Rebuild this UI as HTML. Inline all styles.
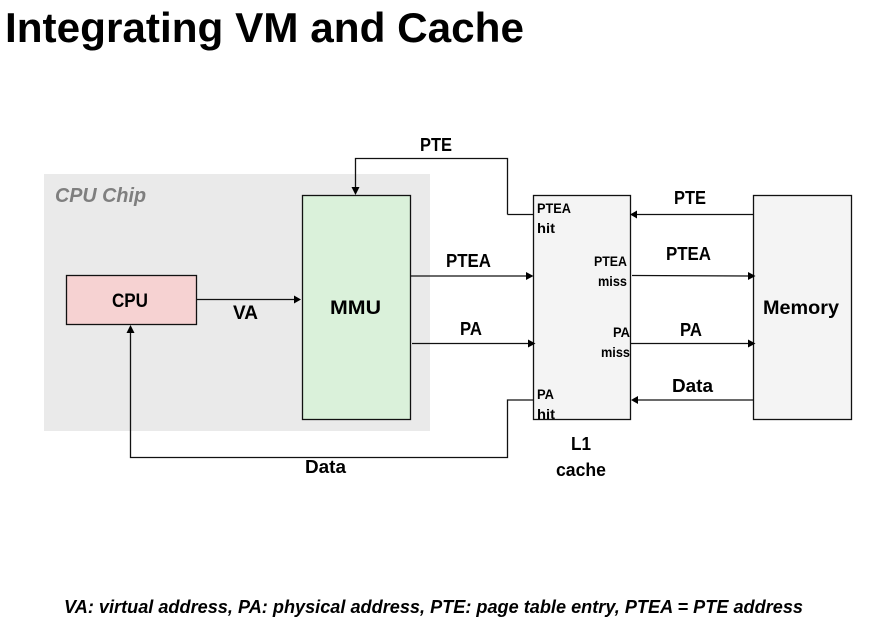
<!DOCTYPE html>
<html>
<head>
<meta charset="utf-8">
<style>
html,body{margin:0;padding:0;background:#fff;width:874px;height:620px;overflow:hidden}
svg{display:block}
text{font-family:"Liberation Sans",sans-serif;font-weight:bold;fill:#000}
</style>
</head>
<body>
<svg width="874" height="620" viewBox="0 0 874 620" xmlns="http://www.w3.org/2000/svg">
<rect width="874" height="620" fill="#fff"/>
<text x="5" y="42" font-size="42" textLength="519" lengthAdjust="spacingAndGlyphs">Integrating VM and Cache</text>

<rect x="44" y="174" width="386" height="257" fill="#eaeaea"/>
<text x="55" y="202" font-size="20" font-style="italic" style="fill:#7f7f7f" textLength="91" lengthAdjust="spacingAndGlyphs">CPU Chip</text>

<g stroke="#111" stroke-width="1.3">
<rect x="66.5" y="275.5" width="130" height="49" fill="#f6d2d2"/>
<rect x="302.5" y="195.5" width="108" height="224" fill="#daf1da"/>
<rect x="533.5" y="195.5" width="97" height="224" fill="#f4f4f4"/>
<rect x="753.5" y="195.5" width="98" height="224" fill="#f4f4f4"/>
</g>

<g fill="none" stroke="#111" stroke-width="1.3">
<path d="M507.5 214.5V158.5H355.5V188"/>
<path d="M533 214.5H507.5"/>
<path d="M197 299.5H295"/>
<path d="M411 276H527"/>
<path d="M412 343.5H529"/>
<path d="M533 400H507.5V457.5H130.5V332"/>
<path d="M753 214.5H636"/>
<path d="M632 275.5L749 276"/>
<path d="M631 343.5H749"/>
<path d="M754 400H637"/>
</g>
<g fill="#000">
<path d="M355.5 195L351.5 187H359.5Z"/>
<path d="M301 299.5L294 295.5V303.5Z"/>
<path d="M533.5 276L526 272V280Z"/>
<path d="M535.5 343.5L528 339.5V347.5Z"/>
<path d="M130.5 325L126.5 333H134.5Z"/>
<path d="M630 214.5L637 210.5V218.5Z"/>
<path d="M755.5 276L748 272V280Z"/>
<path d="M755.5 343.5L748 339.5V347.5Z"/>
<path d="M631 400L638 396V404Z"/>
</g>

<g font-size="19">
<text x="112" y="307" textLength="36" lengthAdjust="spacingAndGlyphs">CPU</text>
<text x="330" y="314" textLength="51" lengthAdjust="spacingAndGlyphs">MMU</text>
<text x="763" y="314" textLength="76" lengthAdjust="spacingAndGlyphs">Memory</text>
<text x="233" y="319" textLength="25" lengthAdjust="spacingAndGlyphs">VA</text>
</g>
<g font-size="18">
<text x="420" y="151" textLength="32" lengthAdjust="spacingAndGlyphs">PTE</text>
<text x="446" y="267" textLength="45" lengthAdjust="spacingAndGlyphs">PTEA</text>
<text x="460" y="335" textLength="22" lengthAdjust="spacingAndGlyphs">PA</text>
<text x="305" y="473" textLength="41" lengthAdjust="spacingAndGlyphs">Data</text>
<text x="674" y="204" textLength="32" lengthAdjust="spacingAndGlyphs">PTE</text>
<text x="666" y="260" textLength="45" lengthAdjust="spacingAndGlyphs">PTEA</text>
<text x="680" y="336" textLength="22" lengthAdjust="spacingAndGlyphs">PA</text>
<text x="672" y="392" textLength="41" lengthAdjust="spacingAndGlyphs">Data</text>
<text x="571" y="450" textLength="20" lengthAdjust="spacingAndGlyphs">L1</text>
<text x="556" y="476" textLength="50" lengthAdjust="spacingAndGlyphs">cache</text>
</g>
<g font-size="13.5">
<text x="537" y="213" textLength="34" lengthAdjust="spacingAndGlyphs">PTEA</text>
<text x="537" y="233" textLength="18" lengthAdjust="spacingAndGlyphs">hit</text>
<text x="594" y="266" textLength="33" lengthAdjust="spacingAndGlyphs">PTEA</text>
<text x="598" y="286" textLength="29" lengthAdjust="spacingAndGlyphs">miss</text>
<text x="613" y="337" textLength="17" lengthAdjust="spacingAndGlyphs">PA</text>
<text x="601" y="357" textLength="29" lengthAdjust="spacingAndGlyphs">miss</text>
<text x="537" y="399" textLength="17" lengthAdjust="spacingAndGlyphs">PA</text>
<text x="537" y="419" textLength="18" lengthAdjust="spacingAndGlyphs">hit</text>
</g>
<text x="64" y="613" font-size="18" font-style="italic" textLength="739" lengthAdjust="spacingAndGlyphs">VA: virtual address, PA: physical address, PTE: page table entry, PTEA = PTE address</text>
</svg>
</body>
</html>
